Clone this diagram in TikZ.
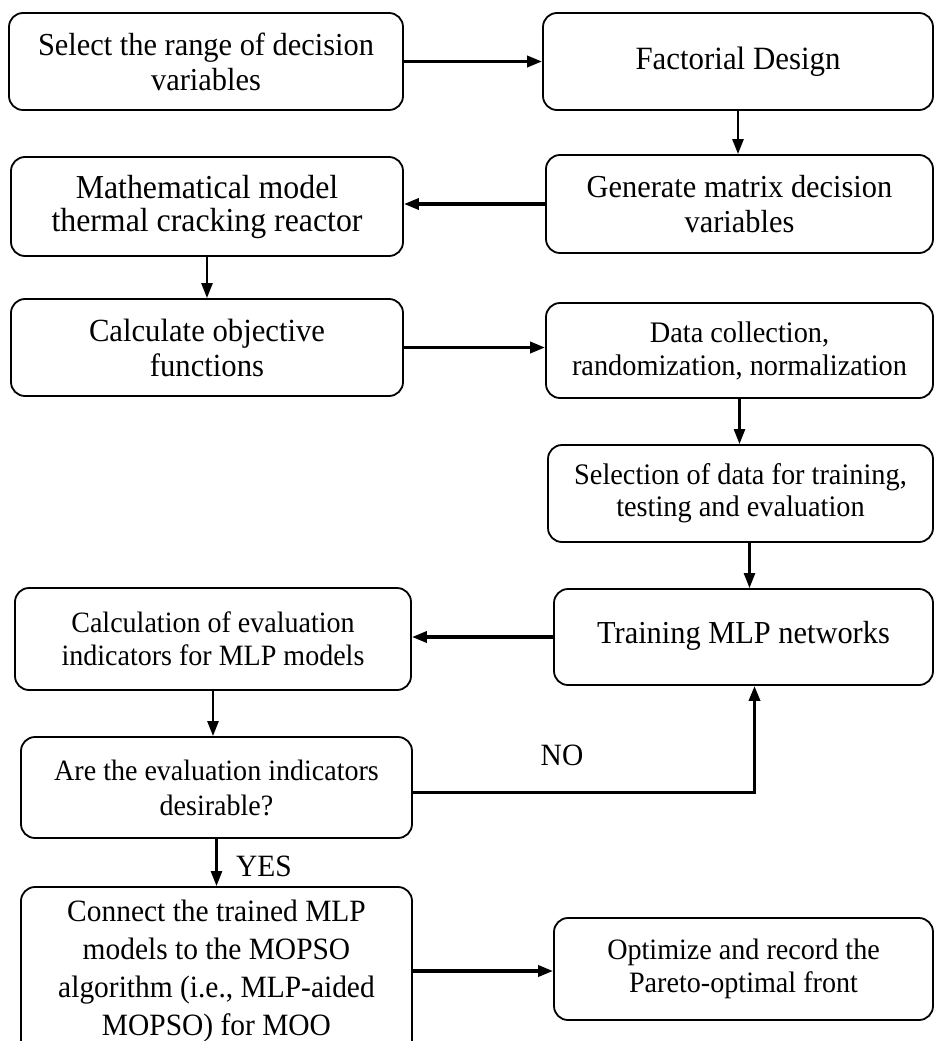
\documentclass[tikz,border=0pt]{standalone}
\usepackage{fontspec}
\setmainfont{Liberation Serif}[FakeStretch=0.95]
\usetikzlibrary{arrows.meta}
\begin{document}
\begin{tikzpicture}[x=1pt,y=-1pt,
  box/.style={draw, line width=1.8pt, rounded corners=14pt, align=center, inner sep=0pt,
    font=\fontsize{32}{35}\selectfont},
  conn/.style={line width=2.5pt, -{Triangle[length=15pt,width=11pt]}},
  heavy/.style={line width=3.4pt},
  lbl/.style={font=\fontsize{31}{34}\selectfont, inner sep=0pt}]
\useasboundingbox (0,0) rectangle (936,1041);
\clip (0,0) rectangle (936,1041);

\node[box, minimum width=394pt, minimum height=97pt] (A) at (206,61.5) {Select the range of decision\\variables};
\node[box, font=\fontsize{32.5}{35}\selectfont, minimum width=390pt, minimum height=97pt] (B) at (738,61.5) {Factorial Design};
\node[box, font=\fontsize{33.5}{33}\selectfont, minimum width=392pt, minimum height=99pt] (C) at (207,206.5) {Mathematical model\\thermal cracking reactor};
\node[box, minimum width=387pt, minimum height=98pt] (D) at (739.5,204) {Generate matrix decision\\variables};
\node[box, font=\fontsize{32.3}{35}\selectfont, minimum width=392pt, minimum height=97pt] (E) at (207,347.5) {Calculate objective\\functions};
\node[box, font=\fontsize{29.8}{33}\selectfont, minimum width=387pt, minimum height=95pt] (F) at (739.5,350.5) {Data collection,\\randomization, normalization};
\node[box, font=\fontsize{29.8}{32}\selectfont, minimum width=385pt, minimum height=97pt] (G) at (740.5,493.5) {Selection of data for training,\\testing and evaluation};
\node[box, minimum width=379pt, minimum height=96pt] (H) at (743.5,637) {\raisebox{9pt}{Training MLP networks}};
\node[box, font=\fontsize{29.5}{33}\selectfont, minimum width=396pt, minimum height=102pt] (I) at (213,639) {Calculation of evaluation\\indicators for MLP models};
\node[box, font=\fontsize{29.5}{35}\selectfont, minimum width=391pt, minimum height=101pt] (J) at (216.5,787.5) {Are the evaluation indicators\\desirable?};
\node[box, font=\fontsize{31}{38}\selectfont, minimum width=391pt, minimum height=168pt] (K) at (216.5,971) {Connect the trained MLP\\models to the MOPSO\\algorithm (i.e., MLP-aided\\MOPSO) for MOO};
\node[box, font=\fontsize{29.6}{33}\selectfont, minimum width=379pt, minimum height=102pt] (L) at (743.5,969) {Optimize and record the\\Pareto-optimal front};

\draw[conn, heavy] (A.east) -- (A.east -| B.west);
\draw[conn] (B.south) -- (B.south |- D.north);
\draw[conn, heavy] (D.west) -- (D.west -| C.east);
\draw[conn] (C.south) -- (C.south |- E.north);
\draw[conn, heavy] (E.east) -- (E.east -| F.west);
\draw[conn] (F.south) -- (F.south |- G.north);
\draw[conn] ([xshift=6pt]H.north |- G.south) -- ([xshift=6pt]H.north);
\draw[conn, heavy] (H.west) -- (H.west -| I.east);
\draw[conn] (I.south) -- (I.south |- J.north);
\draw[conn, heavy] ([yshift=-5pt]J.east) -| ([xshift=11pt]H.south);
\draw[conn] (J.south) -- (J.south |- K.north);
\draw[conn, heavy] (K.east) -- (K.east -| L.west);

\node[lbl] (no) at (562,755) {NO};
\node[lbl] (yes) at (264,866) {YES};
\end{tikzpicture}
\end{document}
